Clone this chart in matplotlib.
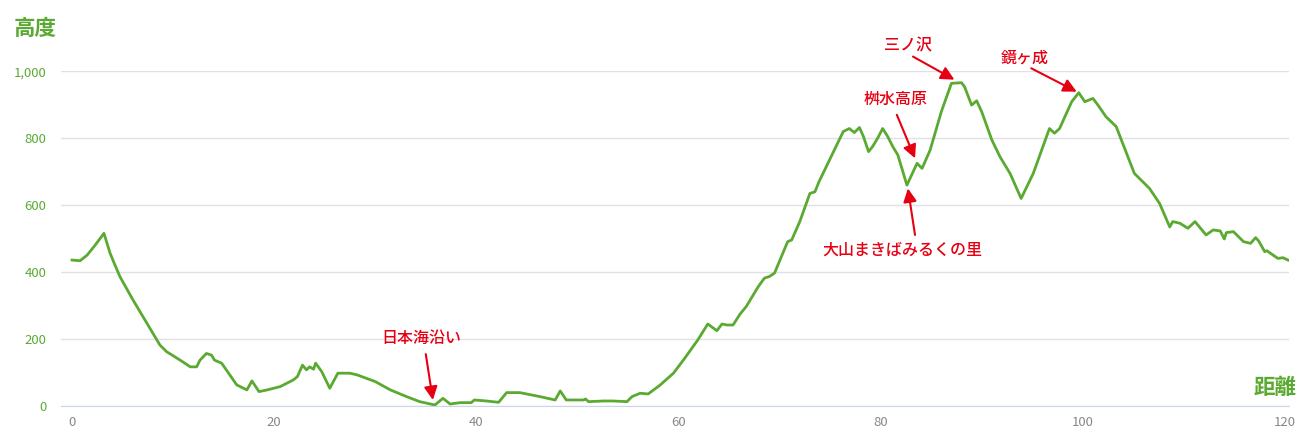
import matplotlib
matplotlib.use("Agg")
import matplotlib.pyplot as plt

plt.rcParams['font.family'] = ['Noto Sans CJK JP', 'DejaVu Sans']

# distance (km) / elevation (m)
dist = [0.0, 0.8, 1.5, 2.3, 3.16, 3.76, 4.25, 4.75, 6.03, 7.39, 8.7, 9.37, 10.7, 11.7,
        12.33, 12.66, 13.3, 13.8, 14.1, 14.8, 16.3, 17.3, 17.8, 18.5, 19.3, 20.6, 21.9,
        22.3, 22.8, 23.2, 23.5, 23.9, 24.1, 24.7, 25.5, 26.3, 27.5, 28.2, 30.0, 31.5,
        33.1, 34.4, 35.9, 36.7, 37.4, 38.4, 39.5, 39.8, 41.0, 42.2, 43.0, 44.3, 46.3,
        47.8, 48.3, 48.9, 50.6, 50.8, 51.1, 52.6, 53.5, 54.9, 55.4, 56.2, 57.0, 58.2,
        59.5, 60.6, 61.9, 62.9, 63.8, 64.3, 64.8, 65.4, 66.1, 66.7, 67.9, 68.5, 69.0,
        69.5, 70.8, 71.2, 72.0, 73.0, 73.5, 73.9, 75.1, 76.3, 76.9, 77.4, 77.9, 78.3,
        78.8, 79.2, 79.7, 80.2, 80.7, 81.2, 81.7, 82.6, 83.6, 84.1, 84.9, 86.0, 87.0,
        88.0, 88.3, 89.0, 89.5, 90.0, 91.0, 91.8, 92.8, 93.9, 95.1, 96.7, 97.2, 97.7,
        98.9, 99.6, 100.2, 101.0, 101.5, 102.3, 103.3, 105.1, 106.6, 107.6, 108.6,
        108.9, 109.6, 110.4, 111.1, 112.2, 112.9, 113.6, 114.0, 114.2, 114.9, 115.9,
        116.6, 117.1, 117.4, 118.0, 118.2, 119.3, 119.8, 120.3]
elev = [436, 434, 451, 481, 516, 457, 421, 386, 317, 248, 182, 162, 137, 117,
        117, 137, 157, 152, 137, 128, 63, 48, 75, 43, 48, 58, 78,
        88, 122, 108, 117, 110, 128, 103, 53, 98, 98, 93, 73, 48,
        28, 13, 3, 23, 6, 10, 10, 18, 15, 11, 40, 40, 28,
        18, 45, 18, 18, 21, 13, 15, 15, 13, 28, 38, 36, 63,
        98, 142, 197, 245, 225, 245, 242, 242, 275, 297, 357, 382, 387,
        397, 491, 496, 551, 635, 640, 670, 745, 820, 829, 817, 832, 805,
        760, 775, 800, 829, 805, 775, 750, 660, 725, 710, 765, 879, 964,
        966, 954, 899, 912, 879, 795, 745, 695, 620, 695, 829, 815, 829,
        909, 936, 909, 919, 899, 864, 835, 695, 650, 605, 535,
        551, 546, 531, 551, 511, 526, 523, 499, 518, 521, 491,
        486, 503, 493, 461, 464, 441, 443, 436]

x_ticks = [0, 20, 40, 60, 80, 100, 120]
y_ticks = [0, 200, 400, 600, 800, 1000]
y_labels = ['0', '200', '400', '600', '800', '1,000']

# place names: label, arrow tip (km, m), text position (km, m), arrow tail (km, m)
places = ['日本海沿い', '三ノ沢', '桝水高原', '大山まきばみるくの里', '鏡ヶ成']
tips = [(35.7, 18), (87.3, 975), (83.4, 740), (82.7, 650), (99.4, 939)]
texts = [(34.6, 203), (82.7, 1075), (81.5, 915), (82.1, 465), (94.3, 1040)]
tails = [(35.0, 155), (83.2, 1044), (81.6, 870), (83.4, 511), (94.9, 1009)]

green = '#5aaa32'
red = '#e60012'

fig = plt.figure(figsize=(13.12, 4.38), dpi=100)
ax = fig.add_axes([61 / 1312, 1 - 406 / 438, (1289 - 61) / 1312, (406 - 71.3) / 438])

ax.plot(dist, elev, color=green, lw=2, zorder=3)

ax.set_xlim(-1.09, 120.4)
ax.set_ylim(0, 1000)
ax.set_xticks(x_ticks)
ax.set_yticks(y_ticks)
ax.set_yticklabels(y_labels)
ax.tick_params(axis='x', length=0, pad=7, labelsize=9.5, labelcolor='#888888')
ax.tick_params(axis='y', length=0, pad=10.5, labelsize=9.5, labelcolor=green)
ax.grid(axis='y', color='#e0e0e6', lw=1)
ax.set_axisbelow(True)
for s in ['top', 'right', 'left']:
    ax.spines[s].set_visible(False)
ax.spines['bottom'].set_color('#ccd6eb')

for name, tip, tx, tl in zip(places, tips, texts, tails):
    ax.annotate(name, xy=tip, xytext=tx, ha='center', va='center', fontsize=11.5,
                fontweight='medium', color=red, annotation_clip=False)
    ax.annotate('', xy=tip, xytext=tl, annotation_clip=False,
                arrowprops=dict(arrowstyle='-|>', color=red, lw=1.5, mutation_scale=20,
                                shrinkA=0, shrinkB=0))

fig.text(14 / 1312, 1 - 28 / 438, '高度', ha='left', va='center', fontsize=15.5,
         fontweight='bold', color=green)
fig.text(1297 / 1312, 1 - 387 / 438, '距離', ha='right', va='center', fontsize=15.5,
         fontweight='bold', color=green)

fig.savefig('out.png', dpi=100)
